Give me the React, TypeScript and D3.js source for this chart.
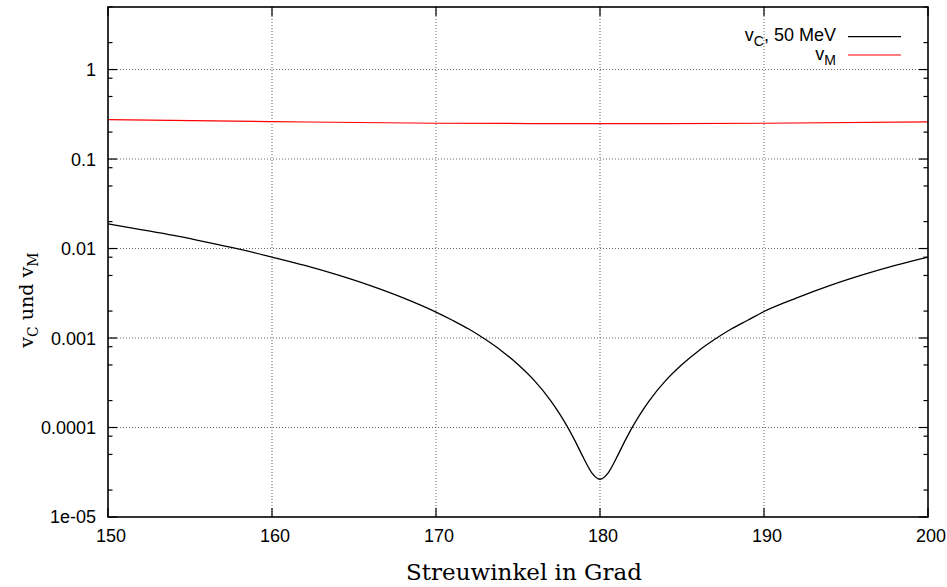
import React from "react";
import * as d3 from "d3";

const xTicks = [150, 160, 170, 180, 190, 200];
const yTicks = [1e-5, 1e-4, 1e-3, 1e-2, 1e-1, 1];
const yTickLabels = ["1e-05", "0.0001", "0.001", "0.01", "0.1", "1"];
const minorFactors = [2, 5, 8];

const vcAngles = [150, 152, 154, 156, 158, 160, 162, 164, 166, 168, 170, 171, 172, 173, 174, 175, 176, 177, 177.5, 178, 178.5, 179, 179.5, 180, 180.5, 181, 181.5, 182, 182.5, 183, 184, 185, 186, 187, 188, 189, 190, 192, 194, 196, 198, 200];
const vcValues = [0.0189, 0.0163, 0.014, 0.0118, 0.00983, 0.00803, 0.00648, 0.00507, 0.00385, 0.00281, 0.00195, 0.00158, 0.00126, 0.000967, 0.000718, 0.000506, 0.000334, 0.000199, 0.000146, 0.000103, 0.0000696, 0.0000456, 0.0000312, 0.0000264, 0.0000312, 0.0000456, 0.0000696, 0.000103, 0.000146, 0.000199, 0.000334, 0.000506, 0.000718, 0.000967, 0.00126, 0.00158, 0.00198, 0.00281, 0.00385, 0.00507, 0.00648, 0.00803];

const vmAngles = [150, 160, 170, 180, 190, 200];
const vmValues = [0.276, 0.262, 0.251, 0.249, 0.251, 0.26];

const W = 947, H = 587;
const L = 108, R = 928, T = 7, B = 517;

export default function App() {
  const x = d3.scaleLinear().domain([150, 200]).range([L, R]);
  const y = d3.scaleLog().domain([1e-5, 5]).range([B, T]);

  const line = d3.line<[number, number]>()
    .x(d => x(d[0]))
    .y(d => y(d[1]))
    .curve(d3.curveMonotoneX);

  const vcPath = line(vcAngles.map((a, i) => [a, vcValues[i]] as [number, number])) || "";
  const vmPath = line(vmAngles.map((a, i) => [a, vmValues[i]] as [number, number])) || "";

  const minors: number[] = [];
  for (let e = -5; e <= 0; e++) {
    for (const f of minorFactors) {
      const v = f * Math.pow(10, e);
      if (v <= 5) minors.push(v);
    }
  }

  const tickFont = "'Liberation Sans', Arial, sans-serif";
  const gridStyle = { stroke: "#666", strokeWidth: 1, strokeDasharray: "1,2" };

  return (
    <svg width={W} height={H} style={{ position: "absolute", left: 0, top: 0, background: "#fff" }}>
      <rect x={0} y={0} width={W} height={H} fill="#fff" />
      {xTicks.slice(1, -1).map(t => (
        <line key={"gx" + t} x1={x(t)} x2={x(t)} y1={T} y2={B} style={gridStyle} />
      ))}
      {yTicks.slice(1).map(t => (
        <line key={"gy" + t} x1={L} x2={R} y1={y(t)} y2={y(t)} style={gridStyle} />
      ))}
      <path d={vmPath} fill="none" stroke="#ff0000" strokeWidth={1.2} />
      <path d={vcPath} fill="none" stroke="#000" strokeWidth={1.3} />
      {xTicks.map(t => (
        <g key={"tx" + t}>
          <line x1={x(t)} x2={x(t)} y1={B} y2={B - 9} stroke="#000" strokeWidth={1.2} />
          <line x1={x(t)} x2={x(t)} y1={T} y2={T + 9} stroke="#000" strokeWidth={1.2} />
          <text x={x(t) + 3} y={542} textAnchor="middle" fontFamily={tickFont} fontSize={18} fill="#000">{t}</text>
        </g>
      ))}
      {yTicks.map((t, i) => (
        <g key={"ty" + t}>
          <line x1={L} x2={L + 9} y1={y(t)} y2={y(t)} stroke="#000" strokeWidth={1.2} />
          <line x1={R} x2={R - 9} y1={y(t)} y2={y(t)} stroke="#000" strokeWidth={1.2} />
          <text x={96} y={y(t)} dy="0.36em" textAnchor="end" fontFamily={tickFont} fontSize={18} fill="#000">{yTickLabels[i]}</text>
        </g>
      ))}
      {minors.map(v => (
        <g key={"m" + v}>
          <line x1={L} x2={L + 4.5} y1={y(v)} y2={y(v)} stroke="#000" strokeWidth={1.2} />
          <line x1={R} x2={R - 4.5} y1={y(v)} y2={y(v)} stroke="#000" strokeWidth={1.2} />
        </g>
      ))}
      <rect x={L} y={T} width={R - L} height={B - T} fill="none" stroke="#000" strokeWidth={1.6} />
      <text x={836} y={40.5} textAnchor="end" fontFamily={tickFont} fontSize={18} fill="#000">
        v<tspan dy={5} fontSize={14}>C</tspan><tspan dy={-5}>, 50 MeV</tspan>
      </text>
      <line x1={848} x2={901} y1={36.7} y2={36.7} stroke="#000" strokeWidth={1.2} />
      <text x={836} y={59.5} textAnchor="end" fontFamily={tickFont} fontSize={18} fill="#000">
        v<tspan dy={5} fontSize={14}>M</tspan>
      </text>
      <line x1={848} x2={901} y1={55} y2={55} stroke="#ff0000" strokeWidth={1.2} />
      <text x={524} y={580} textAnchor="middle" fontFamily="'DejaVu Serif', serif" fontSize={23} fill="#000">Streuwinkel in Grad</text>
      <text transform="translate(33,300) rotate(-90)" textAnchor="middle" fontFamily="'DejaVu Serif', serif" fontSize={19} fill="#000">
        v<tspan dy={5} fontSize={14}>C</tspan><tspan dy={-5}> und v</tspan><tspan dy={5} fontSize={14}>M</tspan>
      </text>
    </svg>
  );
}
